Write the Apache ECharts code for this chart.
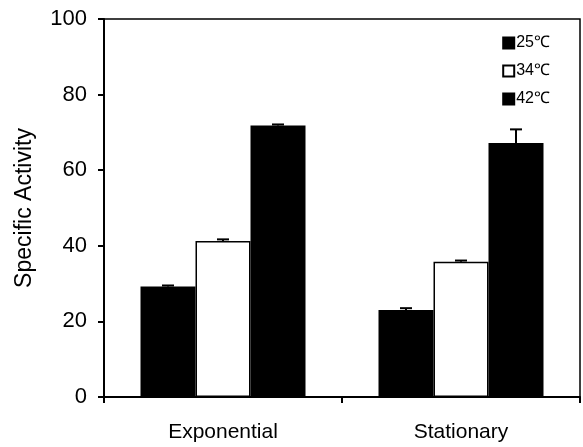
<!DOCTYPE html>
<html>
<head>
<meta charset="utf-8">
<script src="https://cdn.jsdelivr.net/npm/echarts@6/dist/echarts.min.js"></script>
<style>
  html, body { margin: 0; padding: 0; background: #fff; }
  #chart { width: 583px; height: 447px; }
</style>
</head>
<body>
<div id="chart"></div>
<script>
const categories = ['Exponential', 'Stationary']
const seriesNames = ['25℃', '34℃', '42℃']
const values25 = [29.2, 23.0]
const values34 = [41.3, 35.8]
const values42 = [71.8, 67.2]
const errors25 = [0.3, 0.5]
const errors34 = [0.4, 0.3]
const errors42 = [0.3, 3.6]
const yTicks = [0, 20, 40, 60, 80, 100]

const BAR_W = 55
const fontFamily = "'Liberation Sans', Arial, sans-serif"

const chart = echarts.init(document.getElementById('chart'))

function barSeries(name, data, fill) {
  return {
    name,
    type: 'bar',
    data,
    barWidth: BAR_W,
    barGap: '0%',
    itemStyle: { color: fill, borderColor: '#000', borderWidth: 1.5 },
    z: 2,
  }
}

// error bars drawn above each bar, offset to match the grouped bar position
function errorSeries(idx, vals, errs) {
  return {
    type: 'custom',
    data: vals.map((v, i) => [i, v, v + errs[i]]),
    z: 3,
    renderItem(params, api) {
      const base = api.coord([api.value(0), api.value(1)])
      const top = api.coord([api.value(0), api.value(2)])
      const x = base[0] + (idx - 1) * BAR_W
      const half = 6
      return {
        type: 'group',
        children: [
          { type: 'line', shape: { x1: x, y1: base[1], x2: x, y2: top[1] }, style: { stroke: '#000', lineWidth: 2 } },
          { type: 'line', shape: { x1: x - half, y1: top[1], x2: x + half, y2: top[1] }, style: { stroke: '#000', lineWidth: 2 } },
        ],
      }
    },
  }
}

const option = {
  backgroundColor: '#fff',
  animation: false,
  grid: { left: 104, right: 3, top: 19, bottom: 50, show: true, borderColor: '#000', borderWidth: 1.5 },
  legend: {
    orient: 'vertical',
    right: 28,
    top: 30,
    itemGap: 12,
    itemWidth: 11,
    itemHeight: 11,
    data: seriesNames.map(n => ({ name: n, icon: 'rect' })),
    textStyle: { fontFamily, fontSize: 16, color: '#000', padding: [0, 0, 0, -3] },
  },
  xAxis: {
    type: 'category',
    data: categories,
    axisLine: { lineStyle: { color: '#000', width: 2 } },
    axisTick: { show: true, length: 6, lineStyle: { color: '#000', width: 2 } },
    axisLabel: { color: '#000', fontFamily, fontSize: 21, margin: 25 },
  },
  yAxis: {
    type: 'value',
    min: yTicks[0],
    max: yTicks[yTicks.length - 1],
    interval: 20,
    name: 'Specific Activity',
    nameLocation: 'middle',
    nameGap: 68,
    nameTextStyle: { color: '#000', fontFamily, fontSize: 23 },
    axisLine: { show: true, lineStyle: { color: '#000', width: 2 } },
    axisTick: { show: true, length: 6, lineStyle: { color: '#000', width: 2 } },
    axisLabel: { color: '#000', fontFamily, fontSize: 22, margin: 17 },
    splitLine: { show: false },
  },
  series: [
    barSeries(seriesNames[0], values25, '#000'),
    barSeries(seriesNames[1], values34, '#fff'),
    barSeries(seriesNames[2], values42, '#000'),
    errorSeries(0, values25, errors25),
    errorSeries(1, values34, errors34),
    errorSeries(2, values42, errors42),
  ],
}

chart.setOption(option)
</script>
</body>
</html>
